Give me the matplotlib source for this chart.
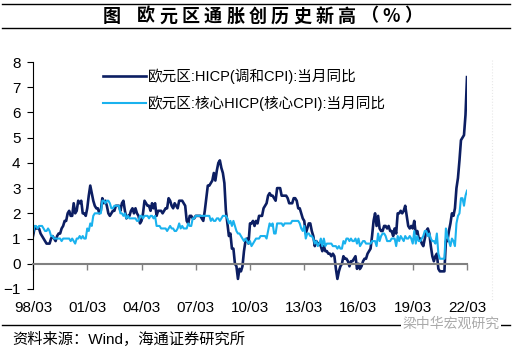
import numpy as np
import matplotlib
matplotlib.use("Agg")
from matplotlib import pyplot as plt
from matplotlib.lines import Line2D

plt.rcParams['font.family'] = ['Liberation Sans', 'Noto Sans CJK SC', 'DejaVu Sans']

# monthly data, 1998/03 .. 2022/03
hicp = [1.1, 1.4, 1.4, 1.4, 1.4, 1.2, 1.1, 1.0, 0.9, 0.8,                      # 1998
        0.8, 0.8, 1.0, 1.1, 1.0, 0.9, 1.1, 1.2, 1.2, 1.4, 1.5, 1.7,            # 1999
        1.7, 2.0, 2.1, 1.9, 1.9, 2.4, 2.0, 2.1, 2.5, 2.4, 2.5, 2.0,            # 2000
        2.0, 1.9, 2.2, 2.7, 3.1, 2.8, 2.5, 2.3, 2.2, 2.2, 2.0, 2.1,            # 2001
        2.6, 2.4, 2.5, 2.3, 2.0, 1.9, 2.0, 2.1, 2.1, 2.3, 2.3, 2.3,            # 2002
        2.1, 2.4, 2.5, 2.1, 1.8, 1.9, 1.9, 2.1, 2.2, 2.0, 2.2, 2.0,            # 2003
        1.9, 1.6, 1.7, 2.0, 2.5, 2.4, 2.3, 2.3, 2.1, 2.4, 2.2, 2.4,            # 2004
        1.9, 2.1, 2.1, 2.1, 2.0, 2.1, 2.2, 2.2, 2.6, 2.5, 2.3, 2.2,            # 2005
        2.4, 2.3, 2.2, 2.5, 2.5, 2.5, 2.4, 2.3, 1.7, 1.6, 1.9, 1.9,            # 2006
        1.8, 1.8, 1.9, 1.9, 1.9, 1.9, 1.8, 1.7, 2.1, 2.6, 3.1, 3.1,            # 2007
        3.2, 3.3, 3.6, 3.3, 3.7, 4.0, 4.1, 3.8, 3.6, 3.2, 2.1, 1.6,            # 2008
        1.1, 1.2, 0.6, 0.6, 0.0, -0.1, -0.6, -0.2, -0.3, -0.1, 0.5, 0.9,       # 2009
        1.0, 0.8, 1.6, 1.6, 1.7, 1.5, 1.7, 1.6, 1.9, 1.9, 1.9, 2.2,            # 2010
        2.3, 2.4, 2.7, 2.8, 2.7, 2.7, 2.6, 2.5, 3.0, 3.0, 3.0, 2.7,            # 2011
        2.7, 2.7, 2.7, 2.6, 2.4, 2.4, 2.4, 2.6, 2.6, 2.5, 2.2, 2.2,            # 2012
        2.0, 1.8, 1.7, 1.2, 1.4, 1.6, 1.6, 1.3, 1.1, 0.7, 0.9, 0.8,            # 2013
        0.8, 0.7, 0.5, 0.7, 0.5, 0.5, 0.4, 0.4, 0.3, 0.4, 0.3, -0.2,           # 2014
        -0.6, -0.3, -0.1, 0.0, 0.3, 0.2, 0.2, 0.1, -0.1, 0.1, 0.1, 0.2,        # 2015
        0.3, -0.2, 0.0, -0.2, -0.1, 0.1, 0.2, 0.2, 0.4, 0.5, 0.6, 1.1,         # 2016
        1.7, 2.0, 1.5, 1.9, 1.4, 1.3, 1.3, 1.5, 1.5, 1.4, 1.5, 1.3,            # 2017
        1.3, 1.1, 1.4, 1.2, 2.0, 2.0, 2.1, 2.0, 2.1, 2.3, 1.9, 1.5,            # 2018
        1.4, 1.5, 1.4, 1.7, 1.2, 1.3, 1.0, 1.0, 0.8, 0.7, 1.0, 1.3,            # 2019
        1.4, 1.2, 0.7, 0.3, 0.1, 0.3, 0.4, -0.2, -0.3, -0.3, -0.3, -0.3,       # 2020
        0.9, 0.9, 1.3, 1.6, 2.0, 1.9, 2.2, 3.0, 3.4, 4.1, 4.9, 5.0,            # 2021
        5.1, 5.9, 7.4]                                                         # 2022

core = [1.2, 1.5, 1.5, 1.4, 1.5, 1.5, 1.5, 1.4, 1.3, 1.3,                      # 1998
        1.4, 1.3, 1.1, 1.1, 1.0, 1.0, 1.0, 1.0, 1.0, 0.9, 1.0, 1.0,            # 1999
        1.0, 1.0, 1.0, 0.9, 1.0, 0.9, 0.8, 1.0, 1.0, 1.1, 1.0, 1.1,            # 2000
        1.0, 1.0, 1.4, 1.3, 1.6, 1.5, 1.9, 2.0, 2.0, 2.0, 2.0, 2.0,            # 2001
        2.5, 2.5, 2.4, 2.5, 2.5, 2.4, 2.2, 2.2, 2.3, 2.3, 2.3, 2.3,            # 2002
        2.0, 2.0, 1.9, 2.0, 1.8, 1.9, 1.8, 1.8, 1.8, 1.8, 1.8, 1.7,            # 2003
        1.7, 1.9, 1.9, 1.8, 1.9, 1.9, 1.9, 1.8, 1.9, 1.9, 1.8, 1.9,            # 2004
        1.5, 1.5, 1.5, 1.4, 1.4, 1.4, 1.4, 1.3, 1.4, 1.5, 1.4, 1.4,            # 2005
        1.3, 1.3, 1.4, 1.6, 1.4, 1.5, 1.4, 1.4, 1.4, 1.6, 1.5, 1.5,            # 2006
        1.8, 1.8, 1.9, 1.9, 1.9, 1.9, 1.9, 1.9, 1.9, 1.9, 1.9, 1.9,            # 2007
        1.7, 1.8, 1.7, 1.7, 1.8, 1.8, 1.7, 1.8, 1.9, 1.9, 1.9, 1.8,            # 2008
        1.6, 1.7, 1.5, 1.7, 1.5, 1.3, 1.2, 1.2, 1.1, 1.0, 0.9, 1.0,            # 2009
        0.9, 0.8, 0.9, 0.7, 0.8, 0.9, 1.0, 1.0, 1.0, 1.1, 1.1, 1.1,            # 2010
        1.1, 1.0, 1.3, 1.6, 1.5, 1.6, 1.2, 1.2, 1.6, 1.6, 1.6, 1.6,            # 2011
        1.5, 1.6, 1.6, 1.6, 1.6, 1.6, 1.7, 1.7, 1.7, 1.7, 1.7, 1.6,            # 2012
        1.4, 1.3, 1.5, 1.0, 1.2, 1.2, 1.1, 1.1, 1.0, 0.8, 0.9, 0.7,            # 2013
        0.8, 1.0, 0.7, 1.0, 0.7, 0.8, 0.8, 0.8, 0.8, 0.7, 0.7, 0.7,            # 2014
        0.6, 0.7, 0.6, 0.6, 0.9, 0.8, 1.0, 1.0, 0.9, 1.0, 0.9, 0.9,            # 2015
        1.0, 0.8, 1.0, 0.7, 0.8, 0.9, 0.9, 0.8, 0.8, 0.8, 0.8, 0.9,            # 2016
        0.9, 0.9, 0.7, 1.2, 0.9, 1.1, 1.2, 1.2, 1.1, 0.9, 0.9, 0.9,            # 2017
        1.0, 1.0, 1.0, 0.7, 1.1, 0.9, 1.1, 1.0, 0.9, 1.1, 1.0, 1.0,            # 2018
        1.1, 1.0, 0.8, 1.3, 0.8, 1.1, 0.9, 0.9, 1.0, 1.1, 1.3, 1.3,            # 2019
        1.1, 1.2, 1.0, 0.9, 0.9, 0.8, 1.2, 0.4, 0.2, 0.2, 0.2, 0.2,            # 2020
        1.4, 1.1, 0.9, 0.7, 1.0, 0.9, 0.7, 1.6, 1.9, 2.0, 2.6, 2.6,            # 2021
        2.3, 2.7, 2.9]                                                         # 2022

xlabels = ['98/03', '01/03', '04/03', '07/03', '10/03', '13/03', '16/03', '19/03', '22/03']
names = ['欧元区:HICP(调和CPI):当月同比', '欧元区:核心HICP(核心CPI):当月同比']
title = '欧元区通胀创历史新高（%）'

x = np.arange(len(hicp))
xt = np.arange(0, len(hicp), 36)

fig = plt.figure(figsize=(5.18, 3.53), dpi=100)
ax = fig.add_axes([33/518, 1-289/353, (467-33)/518, (289-62)/353])

ax.plot(x, hicp, color='#0C1E62', lw=1.9, label=names[0])
ax.plot(x, core, color='#1AB2EE', lw=1.5, label=names[1])

ax.set_xlim(0, len(hicp) - 1)
ax.set_ylim(-1, 8)
ax.set_yticks(range(-1, 9))
ax.tick_params(axis='y', direction='out', length=4, width=0.8, pad=5, labelsize=11)
for s in ['top', 'right']:
    ax.spines[s].set_visible(False)
ax.spines['left'].set_linewidth(0.8)
ax.spines['bottom'].set_position(('data', 0))
ax.spines['bottom'].set_color('#808080')
ax.spines['bottom'].set_linewidth(1.5)
ax.set_xticks(xt)
ax.tick_params(axis='x', direction='out', length=4, width=1, color='#808080', labelbottom=False)
for xi, lab in zip(xt, xlabels):
    ax.text(xi, -0.055, lab, transform=ax.get_xaxis_transform(), ha='center', va='top', fontsize=11)

ax.legend(loc='upper left', bbox_to_anchor=(0.13, 1.03), frameon=False, fontsize=10.5,
          handlelength=3.0, handletextpad=0.1, labelspacing=0.85)

# title, spaced out like the original
tkw = dict(ha='center', va='center', fontsize=13, fontweight='bold', family=['Noto Sans CJK SC'])
fig.text(112/518, 1-16/353, '图', **tkw)
for i, ch in enumerate(title):
    fig.text((146 + 22.3 * i)/518, 1-16/353, ch, **tkw)

for yy in [4, 28, 325]:
    fig.add_artist(Line2D([2/518, 510/518], [1-yy/353, 1-yy/353], color='black', lw=1))
fig.add_artist(Line2D([492/518, 492/518], [1-60/353, 1-300/353], color='#e8e8e8', lw=0.8, ls=':'))
fig.text(12/518, 1-339/353, '资料来源：Wind，海通证券研究所', ha='left', va='center', fontsize=11)
fig.text(500/518, 1-324/353, '梁中华宏观研究', ha='right', va='center', fontsize=10,
         color='#aaaaaa', family=['Noto Sans CJK SC'],
         bbox=dict(facecolor='white', edgecolor='none', pad=1))

fig.savefig('out.png', dpi=100)
